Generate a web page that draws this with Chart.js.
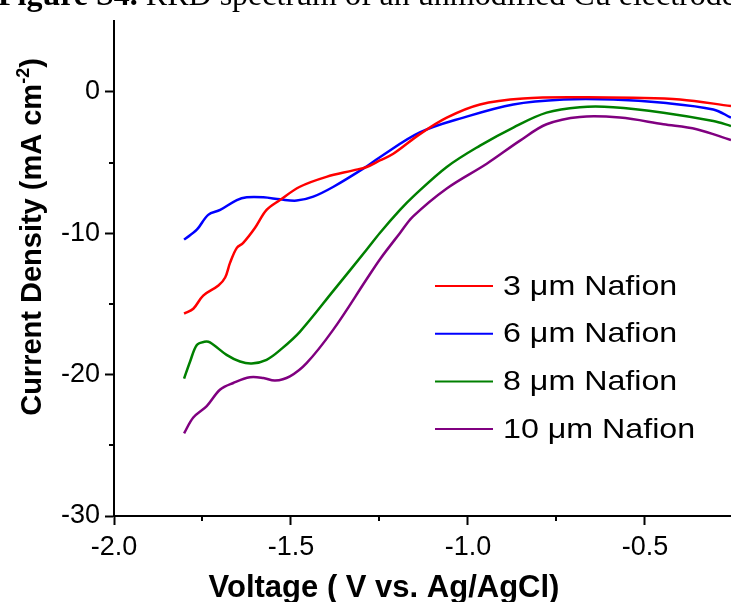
<!DOCTYPE html>
<html>
<head>
<meta charset="utf-8">
<script src="https://cdn.jsdelivr.net/npm/chart.js@4"></script>
<style>
  body { margin: 0; background: #fff; overflow: hidden; }
  #wrap { position: relative; width: 731px; height: 602px; overflow: hidden; }
  #fig { position: absolute; left: -2px; top: -22px; white-space: nowrap;
         font: 32px/1 "Liberation Serif", serif; color: #000; }
</style>
</head>
<body>
<div id="wrap">
  <div id="fig"><b>Figure S4.</b> RRD spectrum of an unmodified Cu electrode</div>
  <canvas id="myChart" width="731" height="602"></canvas>
</div>
<script>
// Légendes des courbes
const labels = ["3 μm Nafion", "6 μm Nafion", "8 μm Nafion", "10 μm Nafion"];
const colors = ["#FF0000", "#0000FF", "#008000", "#800080"];

// Graduations
const xTicks = [-2.0, -1.5, -1.0, -0.5];
const xMinor = [-1.75, -1.25, -0.75];
const yTicks = [-30, -20, -10, 0];
const yMinor = [-25, -15, -5];

// 3 µm (tension V, densité de courant mA cm-2)
const v3 = [-1.802, -1.776, -1.748, -1.705, -1.686, -1.672, -1.653, -1.635, -1.602, -1.569, -1.531, -1.475, -1.40, -1.324, -1.286, -1.249, -1.211, -1.136, -1.06, -0.966, -0.844, -0.684, -0.533, -0.401, -0.257];
const j3 = [-15.69, -15.34, -14.41, -13.7, -13.13, -12.08, -11.03, -10.68, -9.63, -8.35, -7.65, -6.71, -6.01, -5.55, -5.31, -4.85, -4.38, -2.99, -1.82, -0.89, -0.47, -0.38, -0.42, -0.54, -1.0];

// 6 µm
const v6 = [-1.802, -1.766, -1.734, -1.70, -1.653, -1.625, -1.578, -1.531, -1.484, -1.437, -1.38, -1.296, -1.249, -1.136, -1.013, -0.872, -0.73, -0.59, -0.448, -0.307, -0.257];
const j6 = [-10.45, -9.75, -8.7, -8.35, -7.65, -7.46, -7.46, -7.6, -7.69, -7.41, -6.71, -5.43, -4.62, -2.87, -1.82, -0.89, -0.54, -0.54, -0.77, -1.24, -1.82];

// 8 µm
const v8 = [-1.802, -1.785, -1.766, -1.745, -1.729, -1.682, -1.644, -1.611, -1.569, -1.527, -1.475, -1.38, -1.286, -1.249, -1.192, -1.155, -1.06, -0.966, -0.872, -0.778, -0.684, -0.59, -0.448, -0.307, -0.257];
const j8 = [-20.28, -19.07, -17.9, -17.68, -17.72, -18.6, -19.07, -19.21, -18.95, -18.18, -16.97, -14.06, -11.15, -9.98, -8.35, -7.41, -5.31, -3.80, -2.52, -1.47, -1.08, -1.08, -1.47, -2.06, -2.41];

// 10 µm
const v10 = [-1.802, -1.776, -1.738, -1.70, -1.663, -1.616, -1.578, -1.545, -1.503, -1.456, -1.38, -1.286, -1.249, -1.192, -1.155, -1.06, -0.947, -0.853, -0.778, -0.684, -0.571, -0.448, -0.354, -0.257];
const j10 = [-24.15, -23.03, -22.22, -21.05, -20.59, -20.19, -20.24, -20.42, -20.12, -19.19, -16.8, -13.24, -11.85, -9.98, -8.81, -6.83, -5.08, -3.45, -2.29, -1.77, -1.82, -2.29, -2.64, -3.41];

const series = [[v3, j3], [v6, j6], [v8, j8], [v10, j10]];

function pontos(v, j) {
  return v.map((x, i) => ({ x: x, y: j[i] }));
}

const FAMILY = "'Liberation Sans', Arial, sans-serif";

// Petites graduations, titres des axes et légende dessinés à la main
const extras = {
  id: "extras",
  afterDraw(chart) {
    const ctx = chart.ctx;
    const x = chart.scales.x, y = chart.scales.y;
    ctx.save();
    ctx.strokeStyle = "#000";
    ctx.lineWidth = 2;
    xMinor.forEach((v) => {
      const px = Math.round(x.getPixelForValue(v));
      ctx.beginPath();
      ctx.moveTo(px, y.bottom);
      ctx.lineTo(px, y.bottom + 5);
      ctx.stroke();
    });
    yMinor.forEach((v) => {
      const py = Math.round(y.getPixelForValue(v));
      ctx.beginPath();
      ctx.moveTo(x.left, py);
      ctx.lineTo(x.left - 5, py);
      ctx.stroke();
    });

    // titre axe X
    ctx.fillStyle = "#000";
    ctx.font = "bold 31px " + FAMILY;
    ctx.textAlign = "center";
    ctx.textBaseline = "alphabetic";
    ctx.fillText("Voltage ( V vs. Ag/AgCl)", 384, 597);

    // titre axe Y avec exposant
    ctx.save();
    ctx.translate(41, 237);
    ctx.rotate(-Math.PI / 2);
    ctx.textAlign = "left";
    const main = "Current Density (mA cm", sup = "-2", end = ")";
    const fMain = "bold 29px " + FAMILY, fSup = "bold 18px " + FAMILY;
    ctx.font = fMain;
    const w1 = ctx.measureText(main).width, w3 = ctx.measureText(end).width;
    ctx.font = fSup;
    const w2 = ctx.measureText(sup).width;
    let cx = -(w1 + w2 + w3) / 2;
    ctx.font = fMain;
    ctx.fillText(main, cx, 0);
    cx += w1;
    ctx.font = fSup;
    ctx.fillText(sup, cx, -12);
    cx += w2;
    ctx.font = fMain;
    ctx.fillText(end, cx, 0);
    ctx.restore();

    // légende
    ctx.textAlign = "left";
    ctx.textBaseline = "middle";
    chart.data.datasets.forEach((ds, i) => {
      const ry = 286 + i * 47.7;
      ctx.strokeStyle = ds.borderColor;
      ctx.lineWidth = 2;
      ctx.beginPath();
      ctx.moveTo(435, ry);
      ctx.lineTo(493, ry);
      ctx.stroke();
      ctx.save();
      ctx.translate(503, ry + 1);
      ctx.scale(1.15, 1);
      ctx.font = "28px " + FAMILY;
      ctx.fillText(ds.label, 0, 0);
      ctx.restore();
    });
    ctx.restore();
  },
};

const tickFont = { family: FAMILY, size: 27 };

new Chart(document.getElementById("myChart"), {
  type: "line",
  data: {
    datasets: series.map((s, i) => ({
      label: labels[i],
      data: pontos(s[0], s[1]),
      borderColor: colors[i],
      borderWidth: 2.5,
      pointRadius: 0,
      tension: 0.35,
      fill: false,
    })),
  },
  options: {
    responsive: false,
    animation: false,
    layout: { padding: { top: 16, right: 0, left: 0, bottom: 0 } },
    plugins: { legend: { display: false }, tooltip: { enabled: false } },
    scales: {
      x: {
        type: "linear",
        min: -2.0,
        max: -0.257,
        afterBuildTicks: (s) => { s.ticks = xTicks.map((v) => ({ value: v })); },
        afterFit: (s) => { s.height = 86; },
        ticks: { font: tickFont, color: "#000", padding: 6, maxRotation: 0, callback: (v) => v.toFixed(1) },
        grid: { drawOnChartArea: false, tickLength: 9, tickWidth: 2, tickColor: "#000" },
        border: { color: "#000", width: 2 },
      },
      y: {
        min: -30,
        max: 5,
        afterBuildTicks: (s) => { s.ticks = yTicks.map((v) => ({ value: v })); },
        afterFit: (s) => { s.width = 114; },
        ticks: { font: tickFont, color: "#000", padding: 5, callback: (v) => String(v) },
        grid: { drawOnChartArea: false, tickLength: 9, tickWidth: 2, tickColor: "#000" },
        border: { color: "#000", width: 2 },
      },
    },
  },
  plugins: [extras],
});
</script>
</body>
</html>
